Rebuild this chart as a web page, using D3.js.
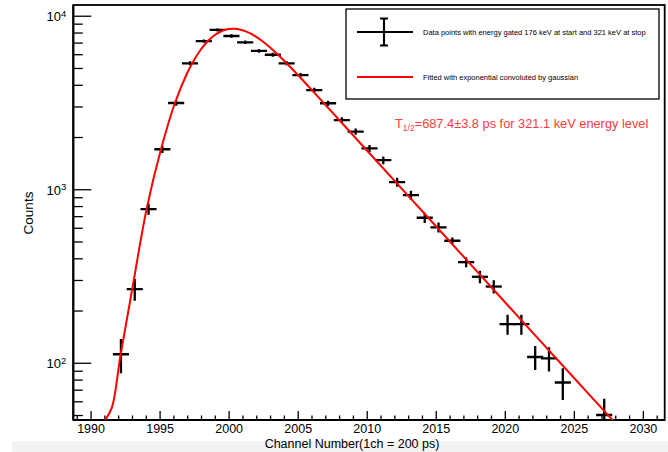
<!DOCTYPE html>
<html><head><meta charset="utf-8">
<script src="https://cdn.jsdelivr.net/npm/d3@7"></script>
<style>
html,body{margin:0;padding:0;background:#fff;}
svg{display:block;font-family:"Liberation Sans",Arial,Helvetica,sans-serif;}
</style></head><body>
<svg id="chart" width="668" height="452"></svg>
<script>
// ---- data ----
const channels = [1992.2,1993.2,1994.2,1995.2,1996.2,1997.2,1998.2,1999.2,2000.2,2001.2,2002.2,2003.2,2004.2,2005.2,2006.2,2007.2,2008.2,2009.2,2010.2,2011.2,2012.2,2013.2,2014.2,2015.2,2016.2,2017.2,2018.2,2019.2,2020.2,2021.2,2022.2,2023.2,2024.2,2027.2];
const counts = [112,266,769,1700,3140,5320,7140,8280,7640,7030,6270,5960,5320,4550,3730,3130,2500,2150,1720,1470,1100,926,685,603,505,380,313,275,167,167,108,106,77,50];
const countErrors = [25,38,55,80,110,140,160,175,170,160,150,150,140,130,120,110,100,90,80,75,65,55,46,40,22,25,26,24,22,22,17,17,16,12];
const binWidth = 1;

const fitChannels = [1991.05,1991.53,1992.18,1993.05,1994.06,1995.10,1996.11,1997.0,1997.5,1998.0,1998.5,1999.0,1999.5,2000.0,2000.5,2001.0,2001.5,2002.0,2002.5,2003.0,2003.5,2004.0,2004.5,2005.0,2006.0,2010,2015,2020,2025,2028];
const fitCounts = [46.8,54.8,111.7,275,769,1698,3141,4677,5566,6412,7154,7748,8162,8379,8400,8251,7956,7552,7075,6563,6040,5525,5030,4571,3750,1679,614,224,82,45];

const xMajorTicks = [1990,1995,2000,2005,2010,2015,2020,2025,2030];
const xMinorTicks = [1989,1991,1992,1993,1994,1996,1997,1998,1999,2001,2002,2003,2004,2006,2007,2008,2009,2011,2012,2013,2014,2016,2017,2018,2019,2021,2022,2023,2024,2026,2027,2028,2029,2031];
const yMajorTicks = [100,1000,10000];
const yMajorExponents = ["2","3","4"];
const yMinorTicks = [50,60,70,80,90,200,300,400,500,600,700,800,900,2000,3000,4000,5000,6000,7000,8000,9000];

const xTitle = "Channel Number(1ch = 200 ps)";
const yTitle = "Counts";
const legendLabels = ["Data points with energy gated 176 keV at start and 321 keV at stop","Fitted with exponential convoluted by gaussian"];
const noteMain = "T";
const noteSub = "1/2";
const noteRest = "=687.4\u00b13.8 ps for 321.1 keV energy level";

// ---- layout ----
const L = 73.3, R = 664.7, T = 5, B = 420;
const svg = d3.select("#chart");

svg.append("rect").attr("x",12).attr("y",441).attr("width",656).attr("height",11).attr("fill","#f3f3f3");

const x = d3.scaleLinear().domain([1988.75, 2031.58]).range([L, R]);
const y = d3.scaleLog().domain([46.8, 11530]).range([B, T]);

svg.append("defs").append("clipPath").attr("id","clip")
  .append("rect").attr("x",L).attr("y",T).attr("width",R-L).attr("height",B-T);

// frame
svg.append("rect").attr("x",L).attr("y",T).attr("width",R-L).attr("height",B-T)
  .attr("fill","none").attr("stroke","#000").attr("stroke-width",1.8);

// x axis
const xMajor = svg.append("g").attr("transform",`translate(0,${B})`)
  .call(d3.axisBottom(x).tickValues(xMajorTicks).tickSize(-9).tickPadding(4).tickFormat(d3.format("d")));
const xMinor = svg.append("g").attr("transform",`translate(0,${B})`)
  .call(d3.axisBottom(x).tickValues(xMinorTicks).tickSize(-4.5).tickFormat(""));
[xMajor,xMinor].forEach(g=>{g.select(".domain").remove(); g.selectAll("line").attr("stroke","#000").attr("stroke-width",1.3);});
xMajor.selectAll("text").attr("font-size",12.5).attr("fill","#000").attr("font-family","Liberation Sans, Arial, sans-serif");

// y axis
const yMajor = svg.append("g").attr("transform",`translate(${L},0)`)
  .call(d3.axisLeft(y).tickValues(yMajorTicks).tickSize(-18).tickPadding(7).tickFormat(()=>"10"));
const yMinor = svg.append("g").attr("transform",`translate(${L},0)`)
  .call(d3.axisLeft(y).tickValues(yMinorTicks).tickSize(-9.5).tickFormat(""));
[yMajor,yMinor].forEach(g=>{g.select(".domain").remove(); g.selectAll("line").attr("stroke","#000").attr("stroke-width",1.3);});
yMajor.selectAll(".tick text").each(function(d,i){
  const t = d3.select(this);
  t.attr("font-size",13).attr("fill","#000").attr("dy","0.4em").attr("font-family","Liberation Sans, Arial, sans-serif");
  t.append("tspan").attr("dy","-0.5em").attr("font-size",9.5).text(yMajorExponents[i]);
});

// axis lines (thicker)
svg.append("line").attr("x1",L).attr("x2",L).attr("y1",T).attr("y2",B).attr("stroke","#000").attr("stroke-width",2);
svg.append("line").attr("x1",L).attr("x2",R).attr("y1",B).attr("y2",B).attr("stroke","#000").attr("stroke-width",2);

// titles
svg.append("text").attr("x",352).attr("y",447.5).attr("text-anchor","middle").attr("font-size",12.5).attr("fill","#000").text(xTitle);
svg.append("text").attr("transform","translate(33,213) rotate(-90)").attr("text-anchor","middle").attr("font-size",13.5).attr("fill","#000").text(yTitle);

// data points
const plot = svg.append("g").attr("clip-path","url(#clip)");
const pts = channels.map((c,i)=>({c, v:counts[i], e:countErrors[i]}));
const pg = plot.append("g").attr("stroke","#000").attr("stroke-width",2.3);
pg.selectAll("line.h").data(pts).join("line").attr("class","h")
  .attr("x1",d=>x(d.c-binWidth/2)).attr("x2",d=>x(d.c+binWidth/2))
  .attr("y1",d=>y(d.v)).attr("y2",d=>y(d.v)).attr("stroke-linecap","square");
pg.selectAll("line.v").data(pts).join("line").attr("class","v")
  .attr("x1",d=>x(d.c)).attr("x2",d=>x(d.c))
  .attr("y1",d=>y(d.v+d.e)).attr("y2",d=>y(Math.max(d.v-d.e,1)));

// fit curve
const fitData = fitChannels.map((c,i)=>[c,fitCounts[i]]);
plot.append("path").datum(fitData)
  .attr("d", d3.line().x(d=>x(d[0])).y(d=>y(d[1])).curve(d3.curveCatmullRom.alpha(0.5)))
  .attr("fill","none").attr("stroke","#ff0000").attr("stroke-width",2);

// legend
const lg = svg.append("g");
lg.append("rect").attr("x",346).attr("y",9).attr("width",313).attr("height",90).attr("fill","#fff").attr("stroke","#000").attr("stroke-width",1.3);
lg.append("line").attr("x1",357).attr("x2",413).attr("y1",32).attr("y2",32).attr("stroke","#000").attr("stroke-width",2.2);
lg.append("line").attr("x1",384).attr("x2",384).attr("y1",18.5).attr("y2",45.5).attr("stroke","#000").attr("stroke-width",2.2);
lg.append("line").attr("x1",380).attr("x2",388).attr("y1",18.5).attr("y2",18.5).attr("stroke","#000").attr("stroke-width",2);
lg.append("line").attr("x1",380).attr("x2",388).attr("y1",45.5).attr("y2",45.5).attr("stroke","#000").attr("stroke-width",2);
lg.append("line").attr("x1",357).attr("x2",413).attr("y1",77).attr("y2",77).attr("stroke","#ff0000").attr("stroke-width",2);
lg.append("text").attr("x",423).attr("y",34.5).attr("font-size",7.5).attr("fill","#000").text(legendLabels[0]);
lg.append("text").attr("x",423).attr("y",79.5).attr("font-size",7.5).attr("fill","#000").text(legendLabels[1]);

// annotation
const note = svg.append("text").attr("x",395).attr("y",128).attr("font-size",12.8).attr("fill","#ff3b3b");
note.append("tspan").text(noteMain);
note.append("tspan").attr("dy",3).attr("font-size",8.5).text(noteSub);
note.append("tspan").attr("dy",-3).text(noteRest);
</script>
</body></html>
